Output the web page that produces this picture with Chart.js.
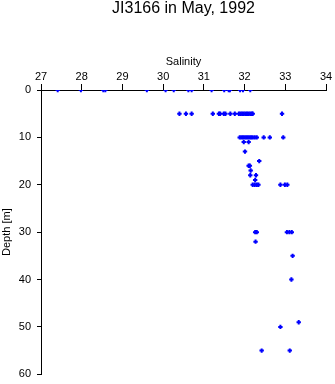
<!DOCTYPE html>
<html>
<head>
<meta charset="utf-8">
<script src="https://cdn.jsdelivr.net/npm/chart.js@4"></script>
<style>
  html, body { margin: 0; padding: 0; background: #fff; }
  #wrap { width: 335px; height: 384px; }
</style>
</head>
<body>
<div id="wrap"><canvas id="profile"></canvas></div>
<script>
// station JI3166, May 1992 - salinity vs depth
const salinity = [
  27.41, 27.98, 28.53, 28.58, 29.60, 30.06, 30.26, 30.62, 30.70, 31.19, 31.50, 31.61, 31.64, 31.89, 31.96, 32.14,
  30.40, 30.56, 30.70, 31.22, 31.37, 31.40, 31.49, 31.53, 31.65, 31.76, 31.86, 31.90, 31.94, 31.98, 32.02, 32.06, 32.10, 32.14, 32.18, 32.20, 32.92,
  31.88, 31.92, 31.96, 32.00, 32.04, 32.08, 32.12, 32.16, 32.20, 32.25, 32.30, 32.47, 32.62, 32.95,
  31.98, 32.10,
  32.01,
  32.36,
  32.10, 32.13,
  32.15,
  32.14, 32.28,
  32.26,
  32.20, 32.25, 32.30, 32.34, 32.88, 32.99, 33.05,
  32.26, 32.30, 33.04, 33.10, 33.16,
  32.27,
  33.18,
  33.15,
  33.33,
  32.88,
  32.42, 33.11
];
const depth = [
  0, 0, 0, 0, 0, 0, 0, 0, 0, 0, 0, 0, 0, 0, 0, 0,
  5, 5, 5, 5, 5, 5, 5, 5, 5, 5, 5, 5, 5, 5, 5, 5, 5, 5, 5, 5, 5,
  10, 10, 10, 10, 10, 10, 10, 10, 10, 10, 10, 10, 10, 10,
  11, 11,
  13,
  15,
  16, 16,
  17,
  18, 18,
  19,
  20, 20, 20, 20, 20, 20, 20,
  30, 30, 30, 30, 30,
  32,
  35,
  40,
  49,
  50,
  55, 55
];
const salinityTicks = [27, 28, 29, 30, 31, 32, 33, 34];
const depthTicks = [0, 10, 20, 30, 40, 50, 60];
const chartTitle = 'JI3166 in May, 1992';

const points = salinity.map((s, i) => ({ x: s, y: depth[i] }));

const family = '"Liberation Sans", Arial, sans-serif';
const font = { family: family, size: 11 };

// title centred over the plot area, not the whole canvas
const plotTitle = {
  id: 'plotTitle',
  afterDraw(chart) {
    const { ctx, chartArea } = chart;
    ctx.save();
    ctx.font = '16px ' + family;
    ctx.fillStyle = '#000';
    ctx.textAlign = 'center';
    ctx.textBaseline = 'middle';
    ctx.fillText(chartTitle, (chartArea.left + chartArea.right) / 2, 9);
    ctx.restore();
  }
};

new Chart(document.getElementById('profile'), {
  type: 'scatter',
  data: {
    datasets: [{
      data: points,
      pointStyle: 'cross',
      pointRadius: 2.2,
      borderWidth: 2,
      borderColor: '#0000ff',
      backgroundColor: '#0000ff'
    }]
  },
  plugins: [plotTitle],
  options: {
    responsive: true,
    maintainAspectRatio: false,
    animation: false,
    events: [],
    layout: { padding: { left: 0, right: 9, top: 50, bottom: 9.7 } },
    plugins: {
      legend: { display: false },
      tooltip: { enabled: false },
      title: { display: false }
    },
    scales: {
      x: {
        type: 'linear',
        position: 'top',
        min: salinityTicks[0],
        max: salinityTicks[salinityTicks.length - 1],
        afterBuildTicks: (scale) => { scale.ticks = salinityTicks.map(v => ({ value: v })); },
        afterFit: (scale) => { scale.height = 40; scale.paddingLeft = 0; scale.paddingRight = 0; },
        ticks: { color: '#000', font: font, padding: 0, maxRotation: 0 },
        grid: { drawOnChartArea: false, drawTicks: true, tickLength: 6, color: '#000' },
        border: { display: true, color: '#000', width: 1 },
        title: { display: true, text: 'Salinity', color: '#000', font: font, padding: { top: 5, bottom: 0 } }
      },
      y: {
        type: 'linear',
        reverse: true,
        min: depthTicks[0],
        max: depthTicks[depthTicks.length - 1],
        afterBuildTicks: (scale) => { scale.ticks = depthTicks.map(v => ({ value: v })); },
        afterFit: (scale) => { scale.width = 41; scale.paddingTop = 0; scale.paddingBottom = 0; },
        ticks: { color: '#000', font: font, padding: 6 },
        grid: { drawOnChartArea: false, drawTicks: true, tickLength: 4, color: '#000' },
        border: { display: true, color: '#000', width: 1 },
        title: { display: true, text: 'Depth [m]', color: '#000', font: font, padding: { top: 0, bottom: 0 } }
      }
    }
  }
});
</script>
</body>
</html>
